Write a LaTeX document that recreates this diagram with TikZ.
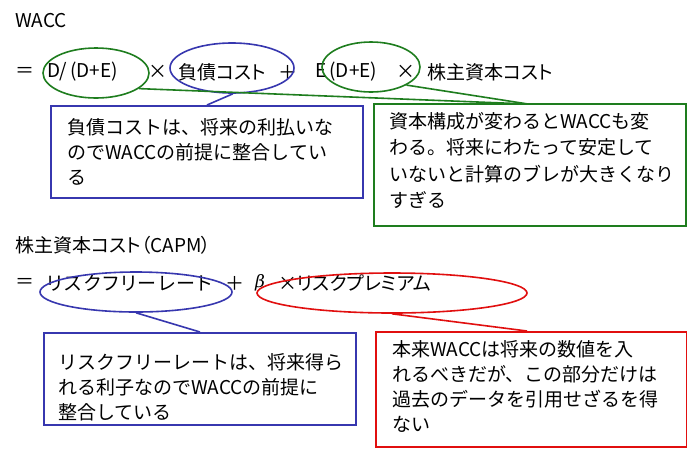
\documentclass[tikz,border=0pt]{standalone}
\usepackage{fontspec}
\setmainfont{Noto Sans CJK JP}
\newfontfamily\pfont[RawFeature=+palt]{Noto Sans CJK JP}
\newfontfamily\lfont[RawFeature=+palt, LetterSpace=10]{Noto Sans CJK JP}
\usetikzlibrary{shapes.geometric}
\definecolor{mygreen}{RGB}{30,125,30}
\definecolor{myblue}{RGB}{55,55,175}
\definecolor{myred}{RGB}{225,15,15}
\begin{document}
\begin{tikzpicture}[x=1pt,y=-1pt,
 txt/.style={inner sep=0pt, anchor=west, font=\pfont\fontsize{19}{25}\selectfont},
 para/.style={inner sep=0pt, anchor=north west, align=left, font=\fontsize{19}{25}\selectfont},
 oval/.style={ellipse, draw, line width=1.6pt, inner sep=0pt},
 box/.style={draw, line width=1.6pt, inner sep=0pt, anchor=north west},
 link/.style={line width=1.6pt}]
\useasboundingbox[fill=white] (0,0) rectangle (687,451);
% section 1
\node[txt] (t0) at (15,21) {WACC};
\node[txt] (eq1) at (15,72) {＝};
\node[txt] (a1) at (47,72) {D/\,(D+E)};
\node[txt] (x1) at (148,72) {×};
\node[txt] (a2) at (178,72) {負債コスト};
\node[txt] (p1) at (278,72) {＋};
\node[txt] (a3) at (315,72) {E\,(D+E)};
\node[txt] (x2) at (396,72) {×};
\node[txt] (a4) at (427,72) {株主資本コスト};
\node[oval, mygreen, minimum width=106, minimum height=50] (g1) at (96,73) {};
\node[oval, myblue, minimum width=124, minimum height=50] (b1) at (232,68) {};
\node[oval, mygreen, minimum width=98, minimum height=50] (g2) at (371,67) {};
\node[box, myblue, minimum width=312, minimum height=92] (bb1) at (50,105) {};
\node[box, mygreen, minimum width=312, minimum height=122] (gb) at (373,103) {};
\node[para] (bt1) at (67,118) {負債コストは、将来の利払いな\\のでWACCの前提に整合してい\\る};
\node[para, font=\fontsize{19}{26.5}\selectfont] (gt) at (389,112) {資本構成が変わるとWACCも変\\わる。将来にわたって安定して\\いないと計算のブレが大きくなり\\すぎる};
\coordinate (c1) at (207,105);
\coordinate (c2) at (528,104);
\draw[link, myblue] (b1.-88) -- (c1);
\draw[link, mygreen] (g1.-20) -- (c2);
\draw[link, mygreen] (g2.-27) -- (c2);
% section 2
\node[txt] (t1) at (15,245) {株主資本コスト（CAPM）};
\node[txt] (eq2) at (15,283) {＝};
\node[txt, font=\lfont\fontsize{19}{25}\selectfont] (r1) at (47,283) {リスクフリーレート};
\node[txt] (p2) at (225,283) {＋};
\node[txt] (r2) at (255,283) {\fontspec{DejaVu Serif}\itshape\fontsize{17}{20}\selectfont β};
\node[txt] (r3) at (278,283) {×リスクプレミアム};
\node[oval, myblue, minimum width=192, minimum height=40] (b2) at (136,292) {};
\node[oval, myred, minimum width=270, minimum height=40] (rd) at (392,293) {};
\node[box, myblue, minimum width=312, minimum height=92] (bb2) at (43,332) {};
\node[box, myred, minimum width=311, minimum height=115] (rb) at (375,331) {};
\node[para] (bt2) at (58,353) {リスクフリーレートは、将来得ら\\れる利子なのでWACCの前提に\\整合している};
\node[para] (rt) at (392,340) {本来WACCは将来の数値を入\\れるべきだが、この部分だけは\\過去のデータを引用せざるを得\\ない};
\coordinate (c3) at (200,332);
\coordinate (c4) at (527,331);
\draw[link, myblue] (b2.-90) -- (c3);
\draw[link, myred] (rd.-90) -- (c4);
\end{tikzpicture}
\end{document}
